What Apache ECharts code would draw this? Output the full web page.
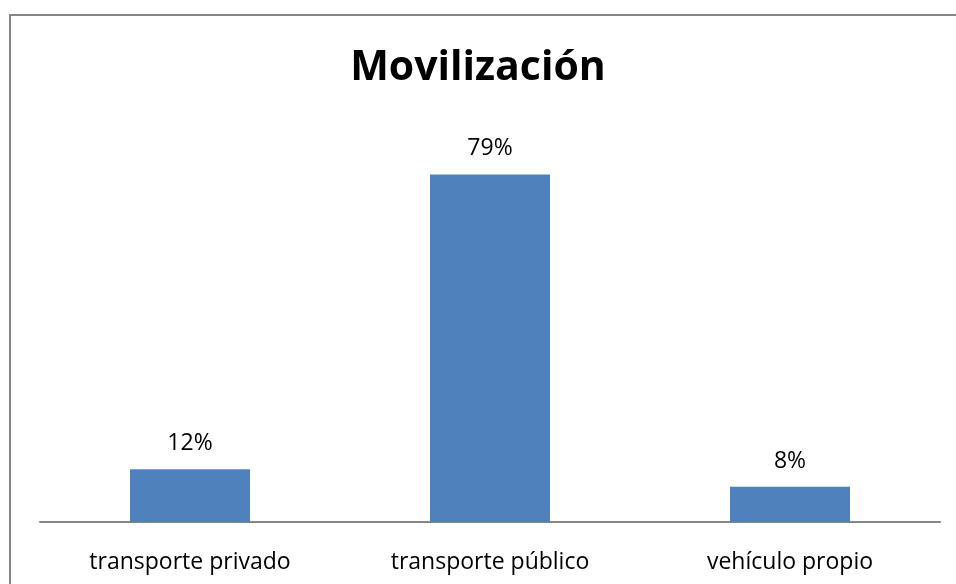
<!DOCTYPE html>
<html>
<head>
<meta charset="utf-8">
<script src="https://cdn.jsdelivr.net/npm/echarts@6/dist/echarts.min.js"></script>
<style>
html, body { margin: 0; padding: 0; background: #fff; }
#chart { width: 956px; height: 584px; }
</style>
</head>
<body>
<div id="chart"></div>
<script>
var categories = ['transporte privado', 'transporte público', 'vehículo propio'];
var percents = [12, 79, 8];
var chartTitle = 'Movilización';

var chart = echarts.init(document.getElementById('chart'));
chart.setOption({
    animation: false,
    textStyle: { fontFamily: 'Open Sans' },
    title: {
        text: chartTitle,
        left: 'center',
        top: 43,
        textStyle: { fontFamily: 'Open Sans', fontSize: 41, fontWeight: 'bold', color: '#000' }
    },
    graphic: [{
        type: 'rect',
        shape: { x: 10, y: 15, width: 1000, height: 1000 },
        style: { fill: 'none', stroke: '#868686', lineWidth: 2 },
        silent: true
    }],
    grid: { left: 40, right: 16, top: 126, bottom: 62 },
    xAxis: {
        type: 'category',
        data: categories,
        axisLine: { lineStyle: { color: '#868686', width: 2 } },
        axisTick: { show: false },
        axisLabel: { color: '#000', fontSize: 23, margin: 29, fontFamily: 'Open Sans' }
    },
    yAxis: {
        type: 'value',
        min: 0,
        max: 90,
        show: false,
        splitLine: { show: false }
    },
    series: [{
        type: 'bar',
        data: percents,
        barWidth: 120,
        itemStyle: { color: '#4F81BD' },
        label: {
            show: true,
            position: 'top',
            distance: 14,
            formatter: '{c}%',
            fontSize: 23,
            fontFamily: 'Open Sans',
            color: '#000'
        }
    }]
});
</script>
</body>
</html>
